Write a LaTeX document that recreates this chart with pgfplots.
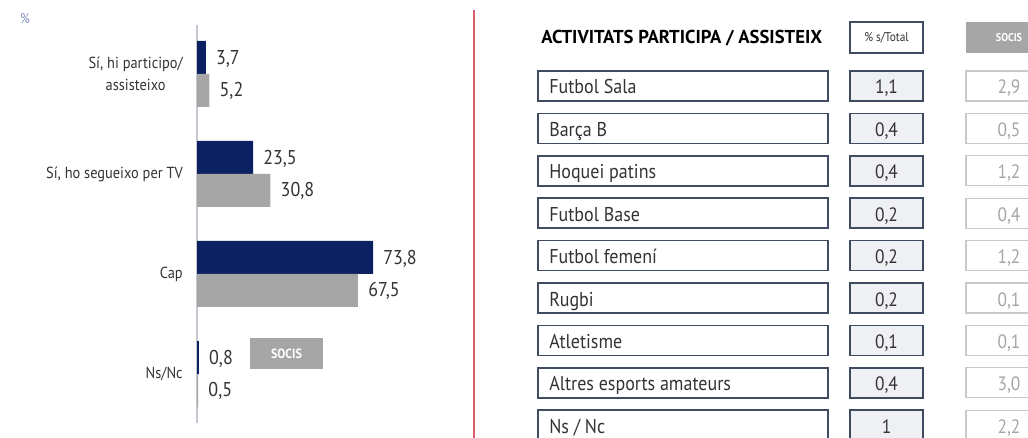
\documentclass[border=0pt]{standalone}
\usepackage{pgfplots}
\pgfplotsset{compat=1.18}
\usepackage{fontspec}
\setmainfont{PT Sans}[FakeStretch=0.9]
\newfontfamily\headfont{PT Sans}
\definecolor{navy}{HTML}{0B2161}
\definecolor{greybar}{HTML}{A6A6A6}
\definecolor{txt}{HTML}{333333}
\definecolor{boxborder}{HTML}{3F4B5E}
\definecolor{valfill}{HTML}{EEF0F4}
\definecolor{socborder}{HTML}{C9C9C9}
\definecolor{soctext}{HTML}{A5A5A5}
\definecolor{pct}{HTML}{7D90B8}
\definecolor{redline}{HTML}{D9606A}
\definecolor{axisgray}{HTML}{C5C8D0}
\begin{document}
\begin{tikzpicture}[x=0.75pt,y=-0.75pt]
\path[use as bounding box] (0,0) rectangle (1028,438);
\clip (0,0) rectangle (1028,438);
\fill[white] (0,0) rectangle (1028,438);
\begin{axis}[
  at={(147.75pt,-317.25pt)}, anchor=south west,
  scale only axis, width=178.875pt, height=298.5pt,
  xmin=0, xmax=100, ymin=-0.49, ymax=3.49,
  separate axis lines,
  axis x line=none, axis y line=left,
  y axis line style={-, draw=axisgray, line width=1.5pt},
  ytick={0,1,2,3},
  yticklabels={Ns/Nc, Cap, {Sí, ho segueixo per TV}, {Sí, hi participo/\\assisteixo}},
  major tick length=0pt,
  yticklabel style={align=center, anchor=east, inner sep=0pt, xshift=-10.5pt,
    font=\fontsize{12}{16}\selectfont, text=txt},
  /pgf/number format/assume math mode=true,
  point meta=x,
  nodes near coords={\pgfmathprintnumber[use comma,fixed,fixed zerofill,precision=1]{\pgfplotspointmeta}},
  every node near coord/.append style={anchor=west, inner sep=0pt, xshift=7.5pt,
    font=\fontsize{15}{18}\selectfont, text=txt},
  clip=false,
]
\addplot[xbar, draw=none, fill=navy, bar width=24.75pt, bar shift=12.375pt,
  every node near coord/.append style={yshift=11.5pt}]
  coordinates {(3.7,3) (23.5,2) (73.8,1) (0.8,0)};
\addplot[xbar, draw=none, fill=greybar, bar width=24.75pt, bar shift=-12.375pt,
  every node near coord/.append style={yshift=-13pt}]
  coordinates {(5.2,3) (30.8,2) (67.5,1) (0.5,0)};
\end{axis}
\node[text=pct, font=\fontsize{10.5}{12}\selectfont] at (25,19) {\%};
\node[fill=greybar, minimum width=54.75pt, minimum height=23.25pt, inner sep=0pt,
  text=white, font=\bfseries\fontsize{10}{11}\selectfont] at (286.5,353.5) {SOCIS};
\draw[redline, line width=0.9pt] (474,10) -- (474,440);
% table
\node[anchor=west, inner sep=0pt, text=black, font=\headfont\bfseries\fontsize{14}{16}\selectfont] at (541,38) {ACTIVITATS PARTICIPA / ASSISTEIX};
\draw[boxborder, line width=1pt, fill=white] (850,22) rectangle (923,53);
\node[text=txt, font=\fontsize{9.5}{11}\selectfont] at (886.5,37.5) {\% s/Total};
\fill[greybar] (966,22) rectangle (1052,53);
\node[text=white, font=\bfseries\fontsize{8.5}{10}\selectfont] at (1009,37.5) {SOCIS};
\foreach \name/\val/\soc [count=\i from 0] in {
  Futbol Sala/{1,1}/{2,9},
  Barça B/{0,4}/{0,5},
  Hoquei patins/{0,4}/{1,2},
  Futbol Base/{0,2}/{0,4},
  Futbol femení/{0,2}/{1,2},
  Rugbi/{0,2}/{0,1},
  Atletisme/{0,1}/{0,1},
  Altres esports amateurs/{0,4}/{3,0},
  {Ns {/} Nc}/1/{2,2}}{
  \pgfmathsetmacro\top{71+42.4*\i}
  \pgfmathsetmacro\bot{\top+30}
  \pgfmathsetmacro\base{\top+23}
  \draw[boxborder, line width=1.1pt, fill=white] (538,\top) rectangle (828,\bot);
  \node[anchor=base west, inner sep=0pt, text=txt, font=\fontsize{15}{18}\selectfont] at (549,\base) {\name};
  \draw[boxborder, line width=1.1pt, fill=valfill] (850,\top) rectangle (923,\bot);
  \node[anchor=base, inner sep=0pt, text=txt, font=\fontsize{14.5}{18}\selectfont] at (886.5,\base) {\val};
  \draw[socborder, line width=1pt, fill=white] (966,\top) rectangle (1052,\bot);
  \node[anchor=base, inner sep=0pt, text=soctext, font=\fontsize{14.5}{18}\selectfont] at (1009,\base) {\soc};
}
\end{tikzpicture}
\end{document}
